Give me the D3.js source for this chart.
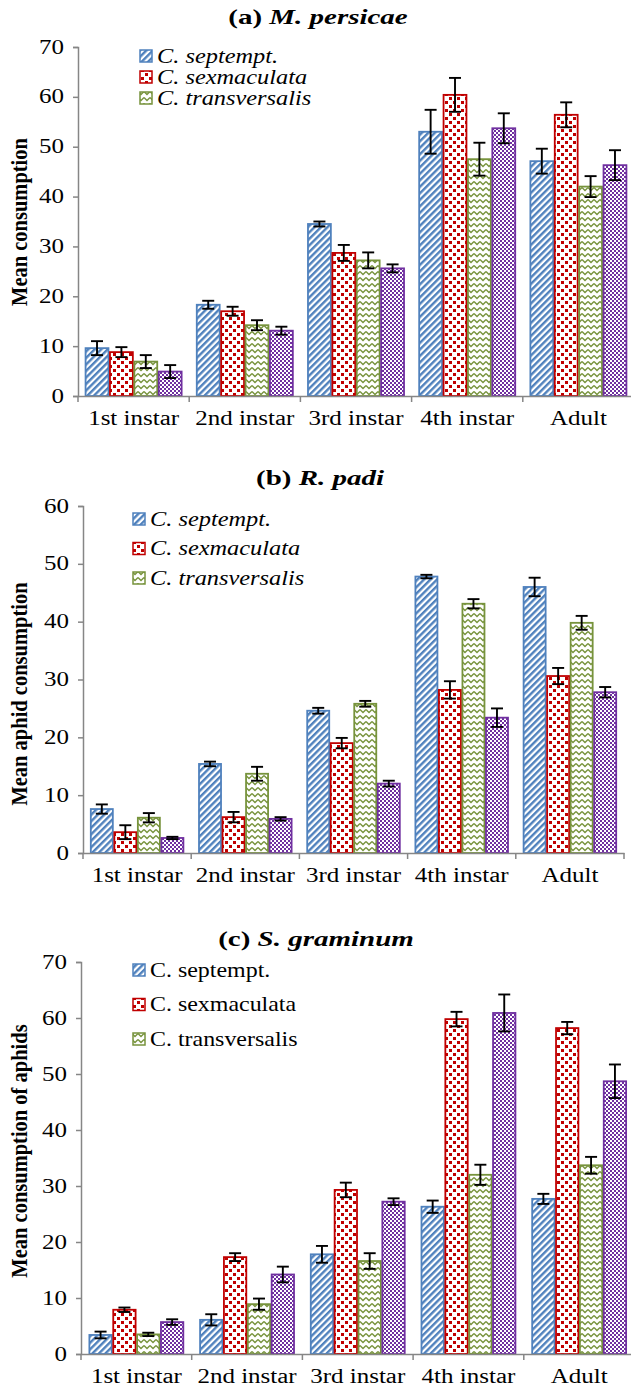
<!DOCTYPE html>
<html><head><meta charset="utf-8">
<script src="https://cdn.jsdelivr.net/npm/d3@7"></script>
<style>body{margin:0;background:#fff}svg{display:block}</style>
</head><body>
<script>
const categories = ["1st instar","2nd instar","3rd instar","4th instar","Adult"];
const legendNames = ["C. septempt.","C. sexmaculata","C. transversalis"];

// (a) M. persicae
const aSeptempt = [9.6, 18.3, 34.5, 53.0, 47.1];
const aSeptemptErr = [1.4, 0.8, 0.5, 4.4, 2.5];
const aSexmac = [8.8, 17.0, 28.7, 60.4, 56.4];
const aSexmacErr = [1.0, 0.9, 1.6, 3.4, 2.5];
const aTransv = [6.9, 14.2, 27.2, 47.5, 42.0];
const aTransvErr = [1.3, 1.0, 1.6, 3.3, 2.1];
const aFourth = [4.9, 13.1, 25.6, 53.7, 46.3];
const aFourthErr = [1.3, 0.8, 0.8, 3.0, 3.0];

// (b) R. padi
const bSeptempt = [7.6, 15.4, 24.6, 47.8, 46.0];
const bSeptemptErr = [0.8, 0.4, 0.5, 0.3, 1.6];
const bSexmac = [3.6, 6.2, 19.0, 28.2, 30.6];
const bSexmacErr = [1.2, 0.9, 0.9, 1.5, 1.4];
const bTransv = [6.1, 13.7, 25.8, 43.1, 39.8];
const bTransvErr = [0.8, 1.2, 0.5, 0.8, 1.2];
const bFourth = [2.6, 5.9, 12.0, 23.4, 27.8];
const bFourthErr = [0.2, 0.3, 0.5, 1.6, 0.9];

// (c) S. graminum
const cSeptempt = [3.4, 6.1, 17.8, 26.3, 27.7];
const cSeptemptErr = [0.6, 1.0, 1.5, 1.1, 0.9];
const cSexmac = [7.9, 17.3, 29.3, 59.8, 58.2];
const cSexmacErr = [0.4, 0.7, 1.3, 1.3, 1.1];
const cTransv = [3.5, 8.9, 16.6, 32.0, 33.7];
const cTransvErr = [0.3, 1.0, 1.4, 1.8, 1.5];
const cFourth = [5.7, 14.2, 27.2, 60.9, 48.7];
const cFourthErr = [0.5, 1.4, 0.6, 3.3, 3.0];

const ticksA = [0,10,20,30,40,50,60,70];
const ticksB = [0,10,20,30,40,50,60];
const ticksC = [0,10,20,30,40,50,60,70];

const colors = ["#4F81BD","#C00000","#77933C","#7030A0"];
const patIds = ["pBlue","pRed","pGreen","pPurple"];
const SX = 1.25;
const serif = "'Liberation Serif','Times New Roman',serif";

const svg = d3.select("body").append("svg").attr("width",631).attr("height",1386);
const defs = svg.append("defs");
// blue upward diagonal
let p = defs.append("pattern").attr("id","pBlue").attr("patternUnits","userSpaceOnUse")
  .attr("width",4.6).attr("height",4.6).attr("patternTransform","rotate(45)");
p.append("rect").attr("width",4.6).attr("height",4.6).attr("fill","#fff");
p.append("rect").attr("width",2.4).attr("height",4.6).attr("fill",colors[0]);
// red confetti squares
p = defs.append("pattern").attr("id","pRed").attr("patternUnits","userSpaceOnUse").attr("width",8).attr("height",8);
p.append("rect").attr("width",8).attr("height",8).attr("fill","#fff");
p.append("rect").attr("x",1).attr("y",1).attr("width",3).attr("height",3).attr("fill",colors[1]);
p.append("rect").attr("x",5).attr("y",5).attr("width",3).attr("height",3).attr("fill",colors[1]);
// green zigzag
p = defs.append("pattern").attr("id","pGreen").attr("patternUnits","userSpaceOnUse").attr("width",6).attr("height",6);
p.append("rect").attr("width",6).attr("height",6).attr("fill","#fff");
p.append("path").attr("d","M0,1.5 L3,4.5 L6,1.5").attr("fill","none").attr("stroke",colors[2]).attr("stroke-width",1.4);
// purple checker
p = defs.append("pattern").attr("id","pPurple").attr("patternUnits","userSpaceOnUse").attr("width",4).attr("height",4);
p.append("rect").attr("width",4).attr("height",4).attr("fill","#fff");
p.append("rect").attr("width",2).attr("height",2).attr("fill",colors[3]);
p.append("rect").attr("x",2).attr("y",2).attr("width",2).attr("height",2).attr("fill",colors[3]);

function stretchedText(g, x, y, opts) {
  return g.append("text").attr("transform",`translate(${x},${y}) scale(${opts.sx||SX},1)`)
    .attr("text-anchor",opts.anchor||"middle").attr("dominant-baseline","central")
    .style("font-family",serif).style("font-size",opts.size+"px")
    .style("font-weight",opts.bold?"bold":"normal").style("font-style",opts.italic?"italic":"normal")
    .attr("fill","#000");
}

function panel(cfg) {
  const g = svg.append("g");
  const x = d3.scaleBand().domain(categories).range(cfg.xr).padding(0);
  const sub = d3.scaleBand().domain(d3.range(4)).range([0, x.bandwidth()]).paddingInner(0).paddingOuter((1-cfg.fill)*2);
  const y = d3.scaleLinear().domain([0, cfg.ymax]).range(cfg.yr);

  cfg.series.forEach((s, si) => {
    g.append("g").selectAll("rect").data(s.vals).join("rect")
      .attr("x", (d,i) => x(categories[i]) + sub(si) + 0.75)
      .attr("y", d => y(d))
      .attr("width", sub.bandwidth() - 1.5)
      .attr("height", d => y(0) - y(d))
      .attr("fill", `url(#${patIds[si]})`)
      .attr("stroke", colors[si]).attr("stroke-width", 1.8);
  });
  cfg.series.forEach((s, si) => {
    const eg = g.append("g").attr("stroke","#000").attr("stroke-width",1.9);
    s.vals.forEach((v, i) => {
      const cx = x(categories[i]) + sub(si) + sub.bandwidth()/2;
      const e = s.err[i];
      eg.append("line").attr("x1",cx).attr("x2",cx).attr("y1",y(v+e)).attr("y2",y(v-e));
      eg.append("line").attr("x1",cx-6).attr("x2",cx+6).attr("y1",y(v+e)).attr("y2",y(v+e));
      eg.append("line").attr("x1",cx-6).attr("x2",cx+6).attr("y1",y(v-e)).attr("y2",y(v-e));
    });
  });

  const ya = g.append("g").attr("transform",`translate(${cfg.xr[0]},0)`)
    .call(d3.axisLeft(y).tickValues(cfg.ticks).tickSize(5).tickFormat(""));
  ya.selectAll("path,line").attr("stroke","#868686").attr("stroke-width",1.5);
  cfg.ticks.forEach(t => stretchedText(g, cfg.xr[0]-14, y(t), {size:20, anchor:"end"}).text(t));

  const xa = g.append("g").attr("transform",`translate(0,${cfg.yr[0]})`)
    .call(d3.axisBottom(x).tickSize(0).tickFormat(""));
  xa.selectAll("path").attr("stroke","#868686").attr("stroke-width",1.5);
  const bounds = categories.map(c => x(c)).concat([x(categories[4]) + x.bandwidth()]);
  g.append("g").selectAll("line").data(bounds).join("line")
    .attr("x1", d=>d).attr("x2", d=>d).attr("y1", cfg.yr[0]).attr("y2", cfg.yr[0]+6)
    .attr("stroke","#868686").attr("stroke-width",1.5);
  categories.forEach(c => stretchedText(g, x(c)+x.bandwidth()/2, cfg.yr[0]+22, {size:20}).text(c));

  const tt = stretchedText(g, cfg.titleX, cfg.titleY, {size:21, bold:true, sx:1.38});
  tt.append("tspan").text(cfg.titlePre + " ");
  tt.append("tspan").style("font-style","italic").text(cfg.titleSp);

  g.append("text").attr("transform",`translate(${cfg.ytX},${cfg.ytY}) rotate(-90) scale(1,1.12)`)
    .attr("text-anchor","middle").attr("dominant-baseline","central")
    .style("font-family",serif).style("font-size","20.5px").style("font-weight","bold").text(cfg.ytitle);

  legendNames.forEach((n, i) => {
    const ly = cfg.legY + i*cfg.legDy;
    g.append("rect").attr("x",cfg.legX).attr("y",ly-6).attr("width",12).attr("height",12)
      .attr("fill",`url(#${patIds[i]})`).attr("stroke",colors[i]).attr("stroke-width",1.5);
    stretchedText(g, cfg.legX+17, ly, {size:cfg.legSize, anchor:"start", italic:cfg.legItalic, sx:cfg.legSx}).text(n);
  });
}

panel({xr:[78,634], yr:[396,47], ymax:70, ticks:ticksA,
  series:[{vals:aSeptempt,err:aSeptemptErr},{vals:aSexmac,err:aSexmacErr},{vals:aTransv,err:aTransvErr},{vals:aFourth,err:aFourthErr}],
  fill:0.86, titleX:318, titleY:17, titlePre:"(a)", titleSp:"M. persicae",
  ytitle:"Mean consumption", ytX:20, ytY:222,
  legX:140, legY:56, legDy:21, legSize:21, legItalic:true, legSx:1.16});

panel({xr:[83,624], yr:[853,506], ymax:60, ticks:ticksB,
  series:[{vals:bSeptempt,err:bSeptemptErr},{vals:bSexmac,err:bSexmacErr},{vals:bTransv,err:bTransvErr},{vals:bFourth,err:bFourthErr}],
  fill:0.85, titleX:320, titleY:478, titlePre:"(b)", titleSp:"R. padi",
  ytitle:"Mean aphid consumption", ytX:20, ytY:694,
  legX:133, legY:519, legDy:29.5, legSize:21, legItalic:true, legSx:1.16});

panel({xr:[81,634.5], yr:[1354,962], ymax:70, ticks:ticksC,
  series:[{vals:cSeptempt,err:cSeptemptErr},{vals:cSexmac,err:cSexmacErr},{vals:cTransv,err:cTransvErr},{vals:cFourth,err:cFourthErr}],
  fill:0.84, titleX:316, titleY:939, titlePre:"(c)", titleSp:"S. graminum",
  ytitle:"Mean consumption of aphids", ytX:20, ytY:1151,
  legX:133, legY:970, legDy:34.5, legSize:21, legItalic:false, legSx:1.14});
</script>
</body></html>
